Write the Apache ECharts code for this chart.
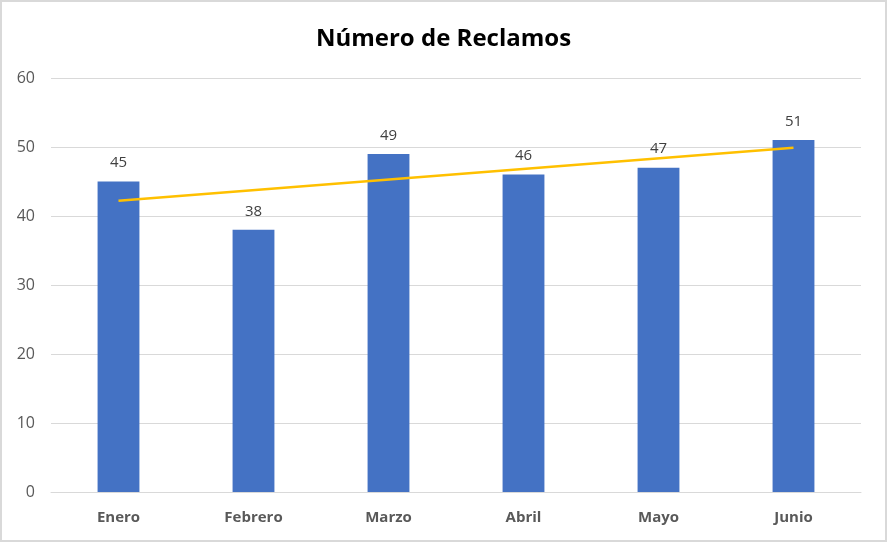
<!DOCTYPE html>
<html>
<head>
<meta charset="utf-8">
<script src="https://cdn.jsdelivr.net/npm/echarts@6/dist/echarts.min.js"></script>
<style>
  html, body { margin: 0; padding: 0; background: #fff; }
  #chart { width: 883px; height: 538px; border: 2px solid #d9d9d9; }
</style>
</head>
<body>
<div id="chart"></div>
<script>
var months = ['Enero', 'Febrero', 'Marzo', 'Abril', 'Mayo', 'Junio'];
var reclamos = [45, 38, 49, 46, 47, 51];
// tendencia lineal, extremos
var tendencia = [42.2, null, null, null, null, 49.9];
var yTicks = [0, 10, 20, 30, 40, 50, 60];

var chart = echarts.init(document.getElementById('chart'));
chart.setOption({
  animation: false,
  title: {
    text: 'Número de Reclamos',
    left: 'center',
    top: 20,
    textStyle: { fontFamily: 'Open Sans', fontSize: 24, fontWeight: 'bold', color: '#000' }
  },
  grid: { left: 49, right: 24, top: 76, bottom: 48 },
  xAxis: {
    type: 'category',
    data: months,
    axisTick: { show: false },
    axisLine: { lineStyle: { color: '#d9d9d9' } },
    axisLabel: { color: '#595959', fontFamily: 'Open Sans', fontSize: 15, fontWeight: 'bold', margin: 18 }
  },
  yAxis: {
    type: 'value',
    min: yTicks[0],
    max: yTicks[yTicks.length - 1],
    interval: 10,
    axisLabel: { color: '#595959', fontFamily: 'Open Sans', fontSize: 16, margin: 16 },
    splitLine: { lineStyle: { color: '#d9d9d9', width: 1 } }
  },
  series: [
    {
      type: 'bar',
      data: reclamos,
      barWidth: '31%',
      itemStyle: { color: '#4472c4' },
      label: { show: true, position: 'top', distance: 11, color: '#404040', fontFamily: 'Open Sans', fontSize: 15 }
    },
    {
      type: 'line',
      data: tendencia,
      connectNulls: true,
      symbol: 'none',
      lineStyle: { color: '#ffc000', width: 2.5 }
    }
  ]
});
</script>
</body>
</html>
